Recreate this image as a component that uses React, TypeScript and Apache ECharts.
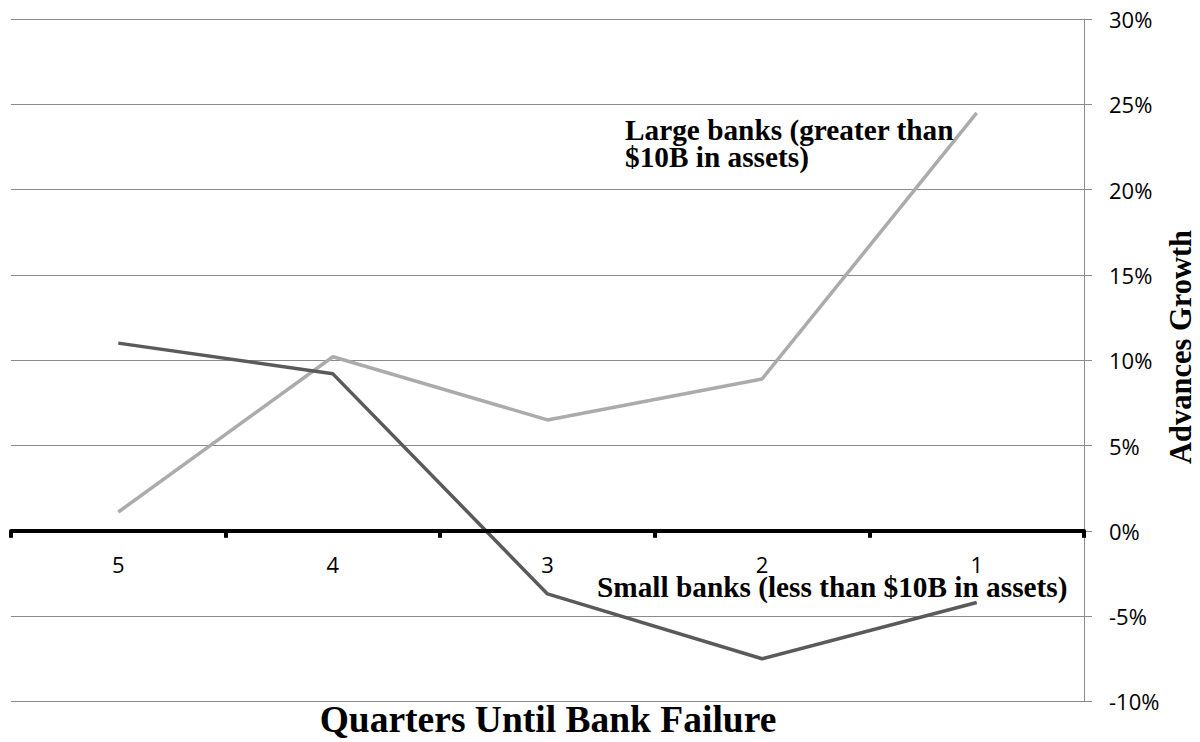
import React, { useEffect, useRef } from "react";
import * as echarts from "echarts";

const categories = ["5", "4", "3", "2", "1"];
const smallBanks = [11.0, 9.2, -3.7, -7.5, -4.2];
const largeBanks = [1.1, 10.2, 6.5, 8.9, 24.5];
const yMin = -10;
const yMax = 30;
const yStep = 5;

const largeLabel = ["Large banks (greater than", "$10B in assets)"];
const smallLabel = "Small banks (less than $10B in assets)";
const xTitle = "Quarters Until Bank Failure";
const yTitle = "Advances Growth";

const SERIF = '"Liberation Serif", "Times New Roman", serif';
const SANS = '"Open Sans", "Noto Sans", sans-serif';

const GRID_TOP = 19;
const GRID_BOTTOM = 40.6;
const CHART_H = 742;

export default function App() {
  const ref = useRef<HTMLDivElement>(null);
  useEffect(() => {
    if (!ref.current) return;
    const chart = echarts.init(ref.current, undefined, { renderer: "svg" });
    const gridH = CHART_H - GRID_TOP - GRID_BOTTOM;
    const zeroOffset = (gridH * (0 - yMin)) / (yMax - yMin);
    chart.setOption({
      animation: false,
      backgroundColor: "#ffffff",
      grid: { left: 11, right: 116, top: GRID_TOP, bottom: GRID_BOTTOM, containLabel: false },
      xAxis: {
        type: "category",
        data: categories,
        boundaryGap: true,
        offset: -zeroOffset,
        axisLine: { show: true, onZero: false, lineStyle: { color: "#000", width: 4 } },
        axisTick: { show: true, length: 7, lineStyle: { color: "#000", width: 4 } },
        axisLabel: { margin: 22, fontFamily: SANS, fontSize: 22, color: "#000" },
        splitLine: { show: false },
        z: 5,
      },
      yAxis: {
        type: "value",
        position: "right",
        min: yMin,
        max: yMax,
        interval: yStep,
        axisLine: { show: true, lineStyle: { color: "#8a8a8a", width: 1 } },
        axisTick: { show: true, length: 8, lineStyle: { color: "#8a8a8a", width: 1 } },
        axisLabel: {
          margin: 25,
          fontFamily: SANS,
          fontSize: 22,
          color: "#000",
          formatter: "{value}%",
        },
        splitLine: { show: true, lineStyle: { color: "#8a8a8a", width: 1 } },
      },
      series: [
        {
          name: "Small banks",
          type: "line",
          data: smallBanks,
          symbol: "none",
          lineStyle: { color: "#5a5a5a", width: 3.5 },
          z: 3,
        },
        {
          name: "Large banks",
          type: "line",
          data: largeBanks,
          symbol: "none",
          lineStyle: { color: "#ababab", width: 3.5 },
          z: 2,
        },
      ],
      graphic: [
        {
          type: "text",
          x: 625,
          y: 129.5,
          style: { text: largeLabel[0], font: `bold 29.3px ${SERIF}`, fill: "#000", align: "left", verticalAlign: "middle" },
          z: 10,
        },
        {
          type: "text",
          x: 625,
          y: 157,
          style: { text: largeLabel[1], font: `bold 29.3px ${SERIF}`, fill: "#000", align: "left", verticalAlign: "middle" },
          z: 10,
        },
        {
          type: "text",
          x: 597,
          y: 587,
          style: { text: smallLabel, font: `bold 29.3px ${SERIF}`, fill: "#000", align: "left", verticalAlign: "middle" },
          z: 10,
        },
        {
          type: "text",
          x: 548,
          y: 719,
          style: { text: xTitle, font: `bold 37.5px ${SERIF}`, fill: "#000", align: "center", verticalAlign: "middle" },
          z: 10,
        },
        {
          type: "text",
          x: 1181,
          y: 347,
          rotation: Math.PI / 2,
          style: { text: yTitle, font: `bold 30.5px ${SERIF}`, fill: "#000", align: "center", verticalAlign: "middle" },
          z: 10,
        },
      ],
    });
    return () => chart.dispose();
  }, []);
  return (
    <div
      ref={ref}
      style={{ position: "absolute", left: 0, top: 0, width: 1200, height: 742, background: "#fff" }}
    />
  );
}
